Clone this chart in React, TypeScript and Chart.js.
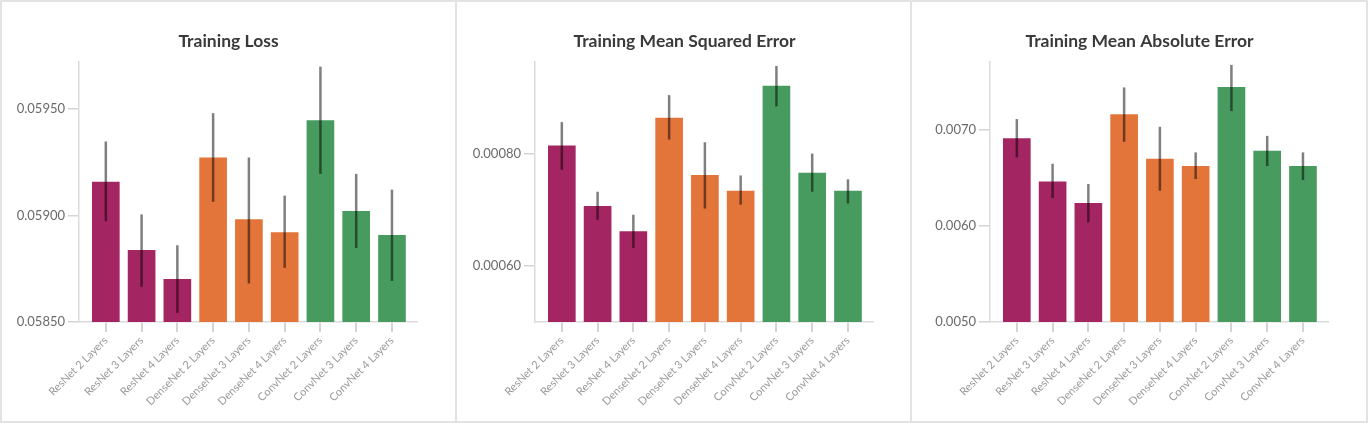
import React, { useEffect, useRef } from "react";
import { Chart, registerables } from "chart.js";

Chart.register(...registerables);

const categories = [
  "ResNet 2 Layers",
  "ResNet 3 Layers",
  "ResNet 4 Layers",
  "DenseNet 2 Layers",
  "DenseNet 3 Layers",
  "DenseNet 4 Layers",
  "ConvNet 2 Layers",
  "ConvNet 3 Layers",
  "ConvNet 4 Layers",
];

const MAGENTA = "#A32561";
const ORANGE = "#E3743A";
const GREEN = "#489B5F";
const barColors = [MAGENTA, MAGENTA, MAGENTA, ORANGE, ORANGE, ORANGE, GREEN, GREEN, GREEN];

// Training Loss
const lossMean = [0.059156, 0.058836, 0.0587, 0.05927, 0.05898, 0.058919, 0.059445, 0.059019, 0.058907];
const lossLow = [0.058973, 0.058665, 0.058543, 0.059064, 0.058681, 0.058754, 0.059195, 0.058847, 0.058693];
const lossHigh = [0.059347, 0.059005, 0.05886, 0.05948, 0.059272, 0.059093, 0.059698, 0.059195, 0.059121];
const lossTicks = [0.0585, 0.059, 0.0595];

// Training Mean Squared Error
const mseMean = [0.0008135, 0.000706, 0.000661, 0.000863, 0.000761, 0.000733, 0.00092, 0.000765, 0.000733];
const mseLow = [0.000771, 0.000682, 0.000632, 0.000825, 0.000702, 0.000709, 0.000884, 0.000732, 0.000711];
const mseHigh = [0.000856, 0.000732, 0.000691, 0.000904, 0.00082, 0.000761, 0.000956, 0.0008, 0.000754];
const mseTicks = [0.0006, 0.0008];

// Training Mean Absolute Error
const maeMean = [0.006913, 0.006461, 0.006236, 0.007163, 0.006698, 0.006622, 0.007445, 0.006781, 0.006622];
const maeLow = [0.006716, 0.006292, 0.006038, 0.006878, 0.006368, 0.00649, 0.007198, 0.006625, 0.006479];
const maeHigh = [0.007115, 0.006649, 0.006438, 0.007445, 0.007035, 0.006768, 0.00768, 0.00694, 0.006768];
const maeTicks = [0.005, 0.006, 0.007];

const errorBarPlugin = {
  id: "errorBars",
  afterDatasetsDraw(chart: any, _args: any, opts: any) {
    const { ctx, scales } = chart;
    const xs = scales.x;
    const ys = scales.y;
    const low: number[] = opts.low || [];
    const high: number[] = opts.high || [];
    ctx.save();
    ctx.strokeStyle = "rgba(0,0,0,0.5)";
    ctx.lineWidth = 2.5;
    ctx.lineCap = "butt";
    for (let i = 0; i < low.length; i++) {
      const x = xs.getPixelForValue(i);
      ctx.beginPath();
      ctx.moveTo(x, ys.getPixelForValue(low[i]));
      ctx.lineTo(x, ys.getPixelForValue(high[i]));
      ctx.stroke();
    }
    ctx.restore();
  },
};

type PanelProps = {
  title: string;
  mean: number[];
  low: number[];
  high: number[];
  yMin: number;
  yMax: number;
  yTicks: number[];
  decimals: number;
  left: number;
};

function Panel(p: PanelProps) {
  const ref = useRef<HTMLCanvasElement | null>(null);
  useEffect(() => {
    if (!ref.current) return;
    const chart = new Chart(ref.current, {
      type: "bar",
      data: {
        datasets: [
          {
            data: p.mean.map((v, i) => ({ x: i, y: v })),
            backgroundColor: barColors,
            borderWidth: 0,
            barThickness: 27,
          } as any,
        ],
      },
      options: {
        animation: false,
        responsive: false,
        maintainAspectRatio: false,
        layout: { padding: 0 },
        plugins: {
          legend: { display: false },
          tooltip: { enabled: false },
          title: {
            display: true,
            text: p.title,
            color: "#3a3a3a",
            font: { family: "Lato", size: 17.5, weight: "bold" },
            padding: { top: 31, bottom: 10 },
          },
          errorBars: { low: p.low, high: p.high },
        } as any,
        scales: {
          x: {
            type: "linear",
            offset: false,
            min: -0.75,
            max: 8.7,
            afterBuildTicks: (scale: any) => {
              scale.ticks = categories.map((_, i) => ({ value: i }));
            },
            afterFit: (scale: any) => {
              scale.height = 102;
            },
            ticks: {
              autoSkip: false,
              minRotation: 45,
              maxRotation: 45,
              padding: 2,
              color: "#9a9a9a",
              font: { family: "Lato", size: 11 },
              callback: (value: any) => categories[value as number] ?? "",
            },
            grid: {
              offset: false,
              drawOnChartArea: false,
              drawTicks: true,
              tickLength: 10,
              color: "#d4d4d4",
              lineWidth: 2,
            },
            border: { color: "#dcdcdc", width: 1.5 },
          },
          y: {
            type: "linear",
            min: p.yMin,
            max: p.yMax,
            afterBuildTicks: (scale: any) => {
              scale.ticks = p.yTicks.map((v) => ({ value: v }));
            },
            afterFit: (scale: any) => {
              scale.width = 78;
            },
            ticks: {
              padding: 3,
              color: "#6a6a6a",
              font: { family: "Lato", size: 13 },
              callback: (value: any) => Number(value).toFixed(p.decimals),
            },
            grid: {
              drawOnChartArea: false,
              drawTicks: true,
              tickLength: 11,
              color: "#d4d4d4",
              lineWidth: 1.5,
            },
            border: { color: "#dcdcdc", width: 1.5 },
          },
          spacer: {
            type: "linear",
            position: "right",
            display: true,
            ticks: { display: false },
            grid: { display: false, drawTicks: false },
            border: { display: false },
            afterFit: (scale: any) => {
              scale.width = 39;
            },
          },
        },
      },
      plugins: [errorBarPlugin],
    } as any);
    return () => chart.destroy();
  }, []);
  return (
    <canvas
      ref={ref}
      width={455}
      height={424}
      style={{ position: "absolute", left: p.left, top: 0, width: 455, height: 424 }}
    />
  );
}

export default function App() {
  const panelLefts = [0, 455, 910];
  const panelWidths = [457, 457, 458];
  return (
    <div
      style={{
        position: "absolute",
        left: 0,
        top: 0,
        width: 1370,
        height: 424,
        background: "#ffffff",
        overflow: "hidden",
      }}
    >
      {panelLefts.map((l, i) => (
        <div
          key={i}
          style={{
            position: "absolute",
            left: l,
            top: 0,
            width: panelWidths[i],
            height: 423,
            boxSizing: "border-box",
            border: "2px solid #e3e3e3",
          }}
        />
      ))}
      <Panel
        title="Training Loss"
        mean={lossMean}
        low={lossLow}
        high={lossHigh}
        yMin={0.0585}
        yMax={0.05972}
        yTicks={lossTicks}
        decimals={5}
        left={1}
      />
      <Panel
        title="Training Mean Squared Error"
        mean={mseMean}
        low={mseLow}
        high={mseHigh}
        yMin={0.0005}
        yMax={0.000963}
        yTicks={mseTicks}
        decimals={5}
        left={457}
      />
      <Panel
        title="Training Mean Absolute Error"
        mean={maeMean}
        low={maeLow}
        high={maeHigh}
        yMin={0.005}
        yMax={0.00771}
        yTicks={maeTicks}
        decimals={4}
        left={912}
      />
    </div>
  );
}
